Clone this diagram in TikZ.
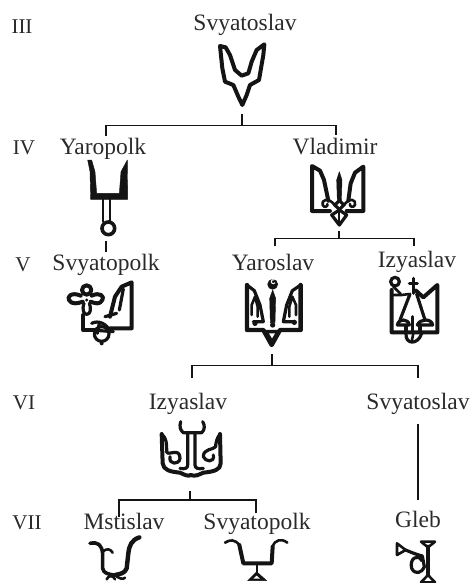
\documentclass[tikz,border=0pt]{standalone}
\usepackage{fontspec}
\setmainfont{Liberation Serif}
\definecolor{ink}{HTML}{141414}
\definecolor{txt}{HTML}{2A2A2A}
\tikzset{
 lbl/.style={anchor=base,inner sep=0pt,text=txt,font=\fontsize{23.5}{26}\selectfont},
 genlbl/.style={anchor=base,inner sep=0pt,text=txt,font=\fontsize{21}{24}\selectfont},
 link/.style={draw=ink,line width=1.3pt},
 em/.style={draw=ink,line width=3.2pt,line join=round,line cap=round},
 emh/.style={draw=ink,line width=4pt,line join=round,line cap=round},
 emm/.style={draw=ink,line width=2.6pt,line join=round,line cap=round},
 emt/.style={draw=ink,line width=1.8pt,line join=round,line cap=round},
 emf/.style={fill=ink,draw=ink,line width=.4pt,line join=round},
 zoomed/.style={shift={#1},scale=1/3}
}
\begin{document}
\begin{tikzpicture}[x=1pt,y=-1pt]
\useasboundingbox (0,0) rectangle (473,583);
% generations
\node[genlbl] (g3) at (22,34) {III};
\node[genlbl] (g4) at (24,154) {IV};
\node[genlbl] (g5) at (23,271) {V};
\node[genlbl] (g6) at (24,409) {VI};
\node[genlbl] (g7) at (27,529) {VII};
% names
\node[lbl] (n1) at (245,31) {Svyatoslav};
\node[lbl] (n2) at (103,154) {Yaropolk};
\node[lbl] (n3) at (335,154) {Vladimir};
\node[lbl] (n4) at (106,270) {Svyatopolk};
\node[lbl] (n5) at (273,270) {Yaroslav};
\node[lbl] (n6) at (417,267) {Izyaslav};
\node[lbl] (n7) at (188,409) {Izyaslav};
\node[lbl] (n8) at (418,409) {Svyatoslav};
\node[lbl] (n9) at (124,529) {Mstislav};
\node[lbl] (n10) at (257,529) {Svyatopolk};
\node[lbl] (n11) at (418,527) {Gleb};
% connector ends
\coordinate (a0) at (242,114); \coordinate (a1) at (242,125.5);
\coordinate (a2) at (106,125.5); \coordinate (a3) at (336,125.5);
\coordinate (a4) at (106,136); \coordinate (a5) at (336,135);
\coordinate (b0) at (339,231); \coordinate (b1) at (339,238.5);
\coordinate (b2) at (275,238.5); \coordinate (b3) at (414,238.5);
\coordinate (b4) at (275,246); \coordinate (b5) at (414,246);
\coordinate (c0) at (106,241); \coordinate (c1) at (106,252);
\coordinate (d0) at (272,354); \coordinate (d1) at (272,365.5);
\coordinate (d2) at (192,365.5); \coordinate (d3) at (418,365.5);
\coordinate (d4) at (192,378); \coordinate (d5) at (418,378);
\coordinate (e0) at (418,424); \coordinate (e1) at (418,500);
\coordinate (f0) at (190,491); \coordinate (f1) at (190,500);
\coordinate (f2) at (119,500); \coordinate (f3) at (256,500);
\coordinate (f4) at (119,517); \coordinate (f5) at (256,513);
\draw[link] (a0)--(a1); \draw[link] (a4)--(a2)--(a3)--(a5);
\draw[link] (b0)--(b1); \draw[link] (b4)--(b2)--(b3)--(b5);
\draw[link] (c0)--(c1);
\draw[link] (d0)--(d1); \draw[link] (d4)--(d2)--(d3)--(d5);
\draw[link] (e0)--(e1);
\draw[link] (f0)--(f1); \draw[link] (f4)--(f2)--(f3)--(f5);
% emblem 1
\begin{scope}[zoomed={(205,35)}]
\draw[emh] (45,33)--(62,37)--(75,60)--(90,105)--(110,122)--(130,115)--(140,80)--(155,45)--(178,28)--(175,60)--(168,100)--(162,135)--(135,150)--(125,180)--(112,210)--(100,185)--(85,150)--(60,140)--(52,100)--cycle;
\end{scope}
% emblem 2
\begin{scope}[zoomed={(75,155)}]
\fill[emf] (38,15)--(50,15)--(60,50)--(65,115)--(133,115)--(138,50)--(157,15)--(158,133)--(47,133)--(45,50)--cycle;
\draw[emt,line width=2.2pt] (85,133)--(85,200); \draw[emt,line width=2.2pt] (105,133)--(105,200);
\draw[emh,line width=3.6pt] (100,220) circle[radius=19];
\end{scope}
% emblem 3 trident
\begin{scope}[zoomed={(300,160)}]
\draw[emh] (90,153)--(36,153)--(36,18)--(60,32)--(72,60)--(85,122);
\draw[emh] (140,153)--(190,153)--(190,20)--(165,38)--(152,70)--(145,122);
\fill[emf] (118,35)--(126,60)--(124,125)--(112,125)--(110,60)--cycle;
\draw[em] (118,122)--(132,135)--(118,148)--(104,135)--cycle;
\draw[emm] (104,135) .. controls (85,110) and (62,120) .. (68,135) .. controls (72,145) and (85,140) .. (82,132);
\draw[emm] (132,135) .. controls (150,110) and (170,120) .. (165,135) .. controls (160,145) and (148,140) .. (150,132);
\draw[em] (95,165)--(118,195)--(140,165)--(118,150)--cycle;
\draw[emt] (118,150)--(118,190);
\end{scope}
% emblem 4 flower
\begin{scope}[zoomed={(60,275)}]
\draw[emh] (80,45) circle[radius=14];
\draw[emh] (62,62) .. controls (35,50) and (20,65) .. (27,75) .. controls (35,90) and (55,85) .. (68,80);
\draw[emh] (95,62) .. controls (120,50) and (135,65) .. (127,75) .. controls (120,90) and (105,85) .. (92,80);
\draw[em] (72,85) .. controls (65,105) and (72,118) .. (80,118) .. controls (90,118) and (95,105) .. (88,85);
\fill[ink] (80,75) circle[radius=5];
\draw[emh] (70,120)--(70,165)--(105,165);
\draw[emh] (150,125)--(165,65)--(185,35)--(215,22)--(215,160)--(150,160);
\draw[em] (190,42)--(178,105);
\draw[em] (135,125)--(170,115);
\draw[em] (125,177) circle[radius=22];
\draw[em] (95,145) .. controls (115,135) and (140,145) .. (150,170);
\draw[em] (95,165)--(160,170);
\draw[em] (118,145)--(112,175);
\fill[ink] (125,205) circle[radius=6];
\end{scope}
% emblem 5 Yaroslav
\begin{scope}[zoomed={(235,270)}]
\draw[emh,line width=4.4pt] (36,45)--(36,180)--(85,180)--(110,225)--(135,180)--(197,180)--(197,45);
\draw[em] (36,45)--(58,62)--(75,105)--(85,155)--(55,155);
\draw[em] (197,45)--(172,62)--(155,105)--(145,155)--(178,155);
\draw[emm] (50,135)--(50,105)--(60,80)--(68,110)--(68,140);
\draw[emm] (183,135)--(183,105)--(172,80)--(163,110)--(163,140);
\fill[ink] (113,43) circle[radius=16];
\draw[white,line width=1pt] (120,38) arc[start angle=30,end angle=300,radius=6];
\fill[emf] (113,60)--(122,85)--(120,158)--(106,158)--(104,85)--cycle;
\fill[ink] (60,160) circle[radius=8];
\fill[ink] (113,165) circle[radius=8];
\fill[ink] (178,157) circle[radius=8];
\fill[emf] (90,180)--(132,180)--(110,228)--cycle;
\fill[white] (102,190)--(120,190)--(111,205)--cycle;
\end{scope}
% emblem 6 Izyaslav
\begin{scope}[zoomed={(380,270)}]
\draw[em] (45,35) circle[radius=13];
\draw[emm] (40,50)--(62,72);
\draw[em] (100,25)--(100,70);
\draw[em] (88,40)--(112,40);
\draw[emh] (35,60)--(35,187)--(172,187)--(172,45)--(130,82)--(108,62);
\draw[emm] (35,75)--(65,75)--(88,72);
\draw[em] (90,72)--(60,150);
\draw[em] (110,72)--(135,150);
\draw[em] (52,165) .. controls (55,145) and (85,145) .. (88,165)--(52,165);
\draw[em] (112,165) .. controls (120,145) and (155,145) .. (158,165)--(112,165);
\draw[em] (98,140)--(98,185);
\draw[em] (78,170)--(78,185);
\draw[em] (120,170)--(120,185);
\draw[em] (78,190) .. controls (75,225) and (115,225) .. (125,190);
\draw[emm] (100,190)--(95,215);
\end{scope}
% emblem 7 Izyaslav II
\begin{scope}[zoomed={(150,410)}]
\draw[em] (92,35) .. controls (88,50) and (90,60) .. (100,68) -- (155,68) .. controls (165,60) and (165,45) .. (158,35);
\draw[em] (113,70)--(113,165) .. controls (113,175) and (105,178) .. (90,175);
\draw[em] (135,70)--(135,165) .. controls (135,175) and (145,178) .. (160,175);
\draw[em] (35,72) .. controls (50,85) and (50,100) .. (50,125) .. controls (52,140) and (90,110) .. (90,145) .. controls (88,165) and (55,165) .. (60,140);
\draw[emh] (35,72)--(38,160) .. controls (40,180) and (60,185) .. (90,188) .. controls (105,195) and (115,200) .. (122,195);
\draw[em] (210,72) .. controls (200,85) and (197,100) .. (197,110) .. controls (190,120) and (160,115) .. (160,140) .. controls (165,155) and (195,160) .. (190,135);
\draw[emh] (210,72)--(212,160) .. controls (212,180) and (190,185) .. (160,188) .. controls (145,195) and (135,200) .. (122,195);
\end{scope}
% emblem 8 Mstislav
\begin{scope}[zoomed={(80,530)}]
\draw[em,line width=3.6pt] (30,40) .. controls (55,35) and (65,45) .. (68,70) -- (68,115) .. controls (70,130) and (85,132) .. (100,135);
\draw[emh,line width=4.4pt] (178,22) .. controls (155,30) and (148,45) .. (145,70) -- (140,115) .. controls (135,130) and (120,132) .. (105,135);
\draw[emm] (68,65) .. controls (80,55) and (90,55) .. (98,68);
\draw[emm] (80,148) .. controls (85,135) and (100,135) .. (105,148);
\draw[emm] (105,135) .. controls (115,145) and (130,150) .. (135,143);
\end{scope}
% emblem 9 Svyatopolk
\begin{scope}[zoomed={(80,530)}]
\draw[emm] (435,38) .. controls (450,28) and (465,28) .. (478,45);
\draw[emh] (478,45)--(490,100)--(575,100)--(578,50);
\draw[emm] (578,50) .. controls (585,28) and (605,25) .. (622,38);
\draw[emt,line width=2pt] (530,100)--(530,130);
\fill[emf] (530,125)--(560,152)--(503,152)--cycle;
\fill[white] (530,137)--(540,146)--(520,146)--cycle;
\end{scope}
% emblem 10 Gleb
\begin{scope}[zoomed={(385,530)}]
\draw[emm] (108,35)--(150,35)--(129,52)--cycle;
\draw[emh] (129,50)--(129,135);
\draw[emm] (129,135)--(108,157)--(150,157)--cycle;
\draw[emm] (36,40)--(36,75)--(62,60)--cycle;
\draw[em] (62,60) .. controls (85,70) and (100,75) .. (112,78) -- (118,110) .. controls (110,130) and (90,135) .. (80,115) .. controls (72,85) and (100,70) .. (110,92);
\end{scope}
\end{tikzpicture}
\end{document}
